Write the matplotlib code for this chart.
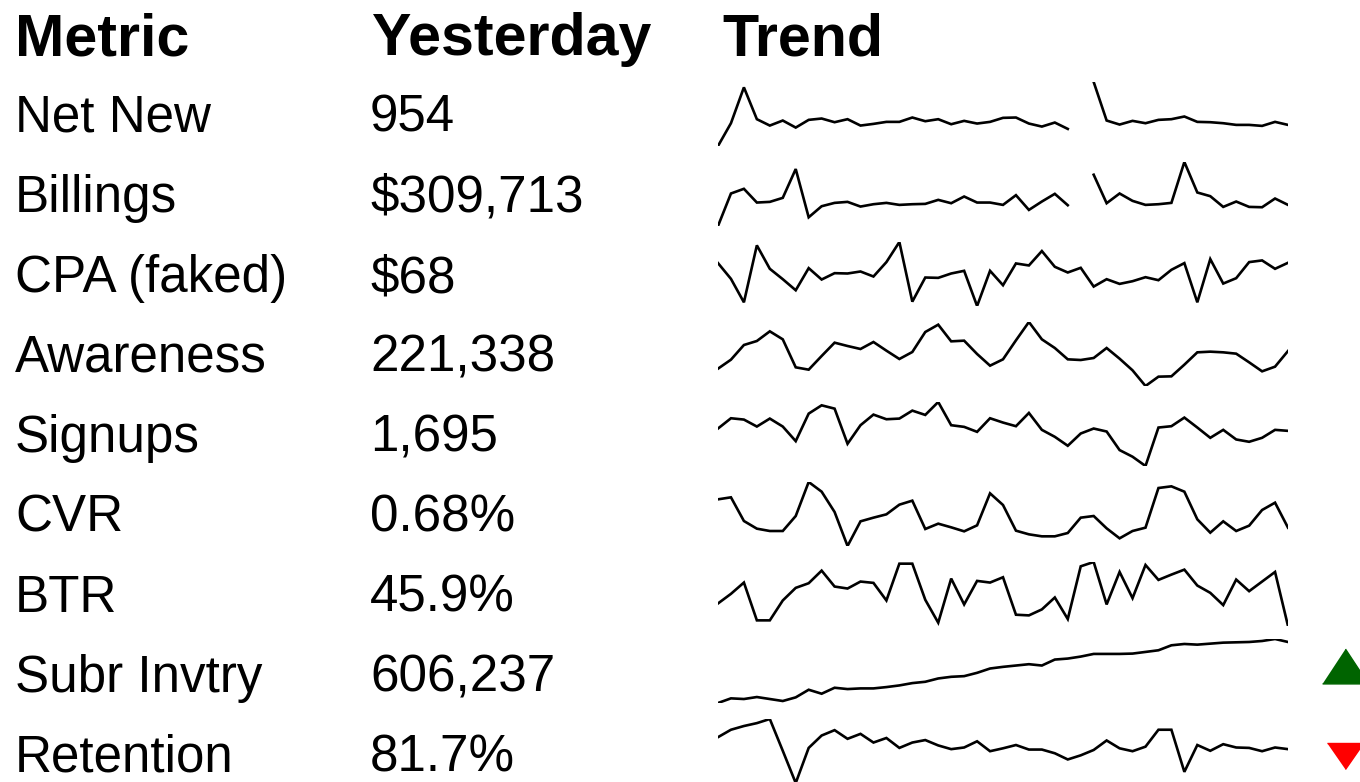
import numpy as np
import matplotlib
matplotlib.use("Agg")
import matplotlib.pyplot as plt

plt.rcParams["font.family"] = ["Liberation Sans", "DejaVu Sans"]

nan = np.nan

metrics = ["Net New", "Billings", "CPA (faked)", "Awareness", "Signups",
           "CVR", "BTR", "Subr Invtry", "Retention"]
yesterday = ["954", "$309,713", "$68", "221,338", "1,695",
             "0.68%", "45.9%", "606,237", "81.7%"]

net_new = [7, 75, 182, 87, 68, 83, 62, 85, 89, 78, 87, 68, 73, 79, 79, 92,
           81, 87, 72, 82, 74, 79, 91, 92, 74, 65, 77, 58, nan, 198, 83, 71,
           82, 75, 85, 87, 95, 79, 78, 75, 70, 70, 67, 79, 70]
billings = [7, 104, 118, 77, 79, 91, 177, 33, 66, 76, 79, 65, 72, 76, 70, 72,
            73, 85, 75, 95, 77, 77, 70, 99, 55, 80, 103, 69, nan, 160, 75, 104,
            82, 70, 72, 76, 198, 107, 96, 64, 80, 64, 63, 89, 70]
cpa = [135, 88, 18, 188, 118, 87, 54, 120, 86, 105, 104, 110, 95, 138, 198,
       20, 92, 91, 104, 112, 7, 112, 69, 134, 128, 171, 124, 107, 121, 65, 87,
       73, 81, 93, 84, 115, 135, 18, 147, 74, 90, 138, 143, 118, 136]
awareness = [60, 87, 131, 143, 172, 148, 64, 57, 98, 138, 128, 119, 140, 114,
             89, 110, 170, 192, 142, 144, 104, 69, 88, 145, 200, 148, 122, 88,
             86, 92, 122, 90, 55, 8, 36, 37, 72, 109, 111, 109, 105, 79, 52,
             66, 113]
signups = [122, 153, 149, 128, 152, 128, 84, 167, 192, 182, 76, 132, 164, 150,
           152, 176, 163, 202, 132, 127, 112, 153, 140, 129, 169, 118, 97, 70,
           107, 122, 113, 57, 37, 9, 125, 129, 155, 125, 94, 118, 89, 82, 94,
           118, 115]
cvr = [150, 156, 85, 62, 55, 55, 100, 202, 173, 112, 10, 84, 95, 105, 134,
       146, 61, 77, 66, 54, 72, 168, 133, 56, 45, 39, 39, 49, 95, 100, 63, 33,
       55, 65, 184, 189, 173, 90, 50, 84, 55, 71, 118, 140, 65]
btr = [63, 92, 126, 12, 12, 72, 110, 124, 162, 114, 108, 129, 125, 72, 183,
       183, 74, 5, 138, 60, 131, 126, 142, 29, 27, 45, 81, 16, 175, 188, 60,
       158, 79, 179, 134, 150, 165, 117, 95, 58, 135, 100, 129, 158, -5]
subr_invtry = [6, 20, 18, 24, 18, 12, 23, 46, 34, 52, 48, 50, 50, 54, 59, 66,
               70, 80, 85, 87, 97, 110, 115, 119, 123, 119, 137, 140, 146, 154,
               154, 154, 155, 160, 165, 180, 184, 182, 185, 188, 189, 190, 193,
               199, 190]
retention = [116, 134, 143, 150, 160, 83, 5, 90, 120, 133, 112, 124, 103, 114,
             90, 103, 109, 96, 87, 91, 106, 82, 89, 97, 86, 86, 77, 62, 72, 85,
             108, 89, 82, 93, 134, 134, 32, 97, 83, 99, 91, 90, 82, 91, 87]

trends = [net_new, billings, cpa, awareness, signups, cvr, btr,
          subr_invtry, retention]

# direction indicators (only for the last two rows)
indicator_rows = [7, 8]
indicator_up = [True, False]

W, H = 1360, 782
fig = plt.figure(figsize=(W / 100, H / 100), dpi=100)


def fx(x):
    return x / W


def fy(y):
    return 1 - y / H


header_size = 42.6
body_size = 36.8
pitch = 80

fig.text(fx(15), fy(55), "Metric", fontsize=header_size, fontweight="bold",
         va="baseline")
fig.text(fx(372), fy(55), "Yesterday", fontsize=header_size,
         fontweight="bold", va="baseline")
fig.text(fx(722), fy(55), "Trend", fontsize=header_size, fontweight="bold",
         va="baseline")

spark_left, spark_right = 718, 1288
spark_h = 64

for i, (name, val, series) in enumerate(zip(metrics, yesterday, trends)):
    base = 132 + pitch * i
    fig.text(fx(15), fy(base), name, fontsize=body_size, va="baseline")
    fig.text(fx(370), fy(base), val, fontsize=body_size, va="baseline")

    top = 82 + pitch * i - (3 if i >= 7 else 0)
    ax = fig.add_axes([fx(spark_left), fy(top + spark_h),
                       fx(spark_right - spark_left), spark_h / H])
    y = np.array(series, dtype=float)
    ax.plot(np.arange(len(y)), y, color="black", lw=1.9,
            solid_joinstyle="miter")
    ax.set_xlim(0, len(y) - 1)
    ax.set_ylim(np.nanmin(y), np.nanmax(y))
    ax.axis("off")

# triangles at the far right, partly cut by the edge
up_marker = [(-1, -0.76), (1, -0.76), (0, 0.76)]
down_marker = [(-1, 0.72), (1, 0.72), (0, -0.72)]
for row, up in zip(indicator_rows, indicator_up):
    cy = 82 + pitch * row + spark_h / 2 + (-8 if up else 2)
    mk = fig.add_axes([fx(1300), fy(cy + 30), fx(90), 60 / H])
    mk.set_xlim(0, 90)
    mk.set_ylim(-30, 30)
    mk.axis("off")
    if up:
        mk.plot([45], [0], marker=up_marker, ms=33, color="#006400",
                linestyle="none")
    else:
        mk.plot([45], [0], marker=down_marker, ms=26, color="#ff0000",
                linestyle="none")

fig.savefig("out.png", dpi=100)
